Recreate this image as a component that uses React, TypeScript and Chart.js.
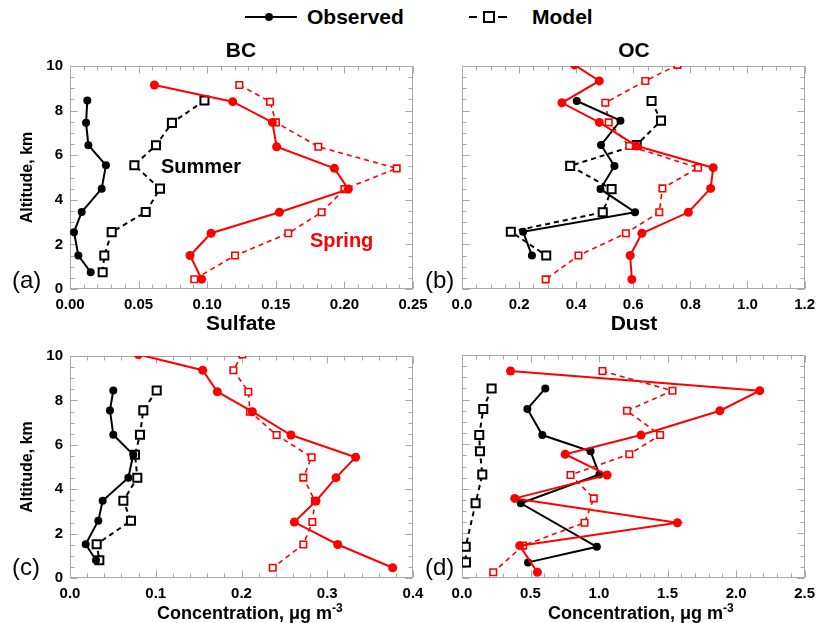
import React, { useEffect, useRef } from 'react';
import { Chart, registerables } from 'chart.js';
Chart.register(...registerables);

const FONT = '"Liberation Sans", Arial, Helvetica, sans-serif';
Chart.defaults.font.family = FONT;

// ---------- DATA (concentration, µg m-3 ; altitude, km) ----------
// BC
const bcSummerAlt = [8.45, 7.45, 6.45, 5.55, 4.5, 3.45, 2.55, 1.5, 0.75];
const bcSummerObs = [0.0126, 0.0117, 0.0134, 0.0262, 0.0231, 0.0085, 0.0029, 0.0061, 0.0151];
const bcSummerModel = [0.098, 0.0743, 0.0627, 0.0469, 0.0656, 0.0552, 0.0304, 0.025, 0.0238];
const bcSpringAlt = [9.15, 8.4, 7.47, 6.38, 5.41, 4.48, 3.44, 2.5, 1.5, 0.44];
const bcSpringObs = [0.0615, 0.1186, 0.1475, 0.1506, 0.1927, 0.2029, 0.1526, 0.1028, 0.0875, 0.096];
const bcSpringModel = [0.1234, 0.1458, 0.1501, 0.181, 0.2381, 0.2, 0.1834, 0.1591, 0.1203, 0.0906];
// OC
const ocSummerAlt = [8.43, 7.55, 6.46, 5.52, 4.48, 3.44, 2.57, 1.5];
const ocSummerObs = [0.402, 0.555, 0.487, 0.534, 0.485, 0.606, 0.214, 0.245];
const ocSummerModel = [0.664, 0.697, 0.612, 0.379, 0.524, 0.493, 0.171, 0.295];
const ocSpringAlt = [10.05, 9.33, 8.35, 7.47, 6.41, 5.44, 4.51, 3.44, 2.5, 1.5, 0.43];
const ocSpringObs = [0.394, 0.481, 0.35, 0.481, 0.612, 0.88, 0.871, 0.793, 0.63, 0.589, 0.595];
const ocSpringModel = [0.755, 0.642, 0.502, 0.514, 0.586, 0.827, 0.702, 0.691, 0.574, 0.408, 0.293];
// Sulfate
const so4SummerAlt = [8.45, 7.55, 6.45, 5.55, 4.52, 3.48, 2.58, 1.52, 0.8];
const so4SummerObs = [0.0505, 0.0466, 0.0505, 0.0738, 0.068, 0.0381, 0.033, 0.0183, 0.0303];
const so4SummerModel = [0.1011, 0.0855, 0.0816, 0.0758, 0.0785, 0.0622, 0.0711, 0.0311, 0.0342];
const so4SpringAlt = [10.07, 9.36, 8.39, 7.49, 6.44, 5.44, 4.52, 3.47, 2.52, 1.51, 0.46];
const so4SpringObs = [0.0797, 0.1547, 0.1718, 0.2126, 0.2577, 0.3331, 0.3102, 0.2869, 0.2616, 0.3122, 0.3763];
const so4SpringModel = [0.201, 0.1905, 0.208, 0.2099, 0.241, 0.2818, 0.2721, 0.2857, 0.2826, 0.2721, 0.2364];
// Dust
const dustSummerAlt = [8.5, 7.58, 6.41, 5.68, 4.64, 3.35, 1.4, 0.7];
const dustSummerObs = [0.608, 0.477, 0.586, 0.938, 1.003, 0.429, 0.984, 0.482];
const dustSummerModel = [0.216, 0.155, 0.126, 0.131, 0.148, 0.099, 0.027, 0.029];
const dustSpringAlt = [9.28, 8.4, 7.5, 6.41, 5.55, 4.62, 3.57, 2.48, 1.45, 0.26];
const dustSpringObs = [0.354, 2.173, 1.882, 1.306, 0.753, 1.059, 0.385, 1.572, 0.421, 0.55];
const dustSpringModel = [1.025, 1.536, 1.204, 1.446, 1.221, 0.792, 0.962, 0.894, 0.446, 0.228];

const altTicks = [0, 2, 4, 6, 8, 10];

const RED = '#ff0000';
const BLACK = '#000000';
const FRAME = '#a8a8a8';

type PanelCfg = {
  cl: number; ct: number; cw: number; ch: number;
  L: number; R: number; T: number; B: number;
  xmax: number; step: number; minor: number; dec: number; yLabels: boolean;
  summerAlt: number[]; summerObs: number[]; summerModel: number[];
  springAlt: number[]; springObs: number[]; springModel: number[];
};

const pts = (alt: number[], v: number[]) => alt.map((a, i) => ({ x: v[i], y: a }));

const frameTicks = {
  id: 'frameTicks',
  beforeDatasetsDraw(chart: any, _a: any, opts: any) {
    const { ctx, chartArea: ca, scales } = chart;
    const xs = scales.x, ys = scales.y;
    ctx.save();
    ctx.strokeStyle = FRAME;
    ctx.lineWidth = 1;
    const l = Math.round(ca.left) + 0.5, r = Math.round(ca.right) - 0.5;
    const t = Math.round(ca.top) + 0.5, b = Math.round(ca.bottom) - 0.5;
    ctx.strokeRect(l, t, r - l, b - t);
    ctx.beginPath();
    const n = Math.round(opts.xmax / opts.minor);
    const per = Math.round(opts.step / opts.minor);
    for (let i = 0; i <= n; i++) {
      const x = Math.round(xs.getPixelForValue(i * opts.minor)) + 0.5;
      const len = i % per === 0 ? 7 : 4;
      ctx.moveTo(x, b); ctx.lineTo(x, b - len);
      ctx.moveTo(x, t); ctx.lineTo(x, t + len);
    }
    for (let i = 0; i <= 20; i++) {
      const y = Math.round(ys.getPixelForValue(i * 0.5)) + 0.5;
      const len = i % 4 === 0 ? 7 : 4;
      ctx.moveTo(l, y); ctx.lineTo(l + len, y);
      ctx.moveTo(r, y); ctx.lineTo(r - len, y);
    }
    ctx.stroke();
    ctx.restore();
  },
};

function Panel({ cfg }: { cfg: PanelCfg }) {
  const ref = useRef<HTMLCanvasElement | null>(null);
  useEffect(() => {
    const c = cfg;
    const obs = (data: any, color: string, r: number) => ({
      data, borderColor: color, backgroundColor: color, borderWidth: 2,
      pointRadius: r, pointStyle: 'circle', pointBackgroundColor: color,
      pointBorderColor: color, pointBorderWidth: 0, clip: 0, tension: 0,
    });
    const mod = (data: any, color: string, r: number, w: number) => ({
      data, borderColor: color, backgroundColor: '#ffffff', borderWidth: w,
      borderDash: [5, 4], pointRadius: r, pointStyle: 'rect',
      pointBackgroundColor: '#ffffff', pointBorderColor: color, pointBorderWidth: w,
      clip: 0, tension: 0,
    });
    const chart = new Chart(ref.current as HTMLCanvasElement, {
      type: 'line',
      data: {
        datasets: [
          obs(pts(c.springAlt, c.springObs), RED, 4.5),
          obs(pts(c.summerAlt, c.summerObs), BLACK, 4),
          mod(pts(c.springAlt, c.springModel), RED, 4.6, 1.6),
          mod(pts(c.summerAlt, c.summerModel), BLACK, 5.7, 2),
        ] as any,
      },
      plugins: [frameTicks as any],
      options: {
        animation: false,
        responsive: false,
        events: [],
        layout: { padding: { left: 0, top: c.T - c.ct, right: c.cl + c.cw - c.R, bottom: 0 } },
        plugins: {
          legend: { display: false },
          tooltip: { enabled: false },
          frameTicks: { xmax: c.xmax, step: c.step, minor: c.minor },
        } as any,
        scales: {
          x: {
            type: 'linear', min: 0, max: c.xmax,
            afterFit: (s: any) => { s.height = 30; },
            afterBuildTicks: (s: any) => {
              const n = Math.round(c.xmax / c.step);
              const arr = [];
              for (let i = 0; i <= n; i++) arr.push({ value: +(i * c.step).toFixed(4) });
              s.ticks = arr;
            },
            ticks: {
              padding: 7, color: '#000', maxRotation: 0, autoSkip: false,
              font: { size: 15, weight: 'bold' },
              callback: (v: any) => Number(v).toFixed(c.dec),
            },
            grid: { display: false, drawTicks: false },
            border: { display: false },
          },
          y: {
            type: 'linear', min: 0, max: 10,
            afterFit: (s: any) => { s.width = c.L - c.cl; },
            afterBuildTicks: (s: any) => { s.ticks = altTicks.map((v) => ({ value: v })); },
            ticks: {
              display: c.yLabels, padding: 7, color: '#000', autoSkip: false,
              font: { size: 15, weight: 'bold' },
              callback: (v: any) => String(v),
            },
            title: {
              display: c.yLabels, text: 'Altitude, km', color: '#000',
              font: { size: 16, weight: 'bold' }, padding: { top: 18, bottom: 0 },
            },
            grid: { display: false, drawTicks: false },
            border: { display: false },
          },
        },
      } as any,
    });
    return () => chart.destroy();
  }, []);
  return (
    <canvas
      ref={ref}
      width={cfg.cw}
      height={cfg.ch}
      style={{ position: 'absolute', left: cfg.cl, top: cfg.ct, width: cfg.cw, height: cfg.ch }}
    />
  );
}

const panels: PanelCfg[] = [
  { cl: 0, ct: 50, cw: 436, ch: 269, L: 70, R: 413, T: 66, B: 289, xmax: 0.25, step: 0.05, minor: 0.01, dec: 2, yLabels: true,
    summerAlt: bcSummerAlt, summerObs: bcSummerObs, summerModel: bcSummerModel,
    springAlt: bcSpringAlt, springObs: bcSpringObs, springModel: bcSpringModel },
  { cl: 436, ct: 50, cw: 386, ch: 269, L: 462, R: 806, T: 66, B: 289, xmax: 1.2, step: 0.2, minor: 0.05, dec: 1, yLabels: false,
    summerAlt: ocSummerAlt, summerObs: ocSummerObs, summerModel: ocSummerModel,
    springAlt: ocSpringAlt, springObs: ocSpringObs, springModel: ocSpringModel },
  { cl: 0, ct: 340, cw: 436, ch: 268, L: 70, R: 413, T: 355, B: 578, xmax: 0.4, step: 0.1, minor: 0.02, dec: 1, yLabels: true,
    summerAlt: so4SummerAlt, summerObs: so4SummerObs, summerModel: so4SummerModel,
    springAlt: so4SpringAlt, springObs: so4SpringObs, springModel: so4SpringModel },
  { cl: 436, ct: 340, cw: 386, ch: 268, L: 462, R: 806, T: 355, B: 578, xmax: 2.5, step: 0.5, minor: 0.1, dec: 1, yLabels: false,
    summerAlt: dustSummerAlt, summerObs: dustSummerObs, summerModel: dustSummerModel,
    springAlt: dustSpringAlt, springObs: dustSpringObs, springModel: dustSpringModel },
];

const txt = (left: number, top: number, size: number, bold: boolean, color: string, center = false): React.CSSProperties => ({
  position: 'absolute', left, top, fontSize: size, fontWeight: bold ? 'bold' : 'normal', color,
  fontFamily: FONT, lineHeight: 1, whiteSpace: 'nowrap',
  transform: center ? 'translateX(-50%)' : undefined,
});

export default function App() {
  return (
    <div style={{ position: 'absolute', left: 0, top: 0, width: 822, height: 623, background: '#fff', overflow: 'hidden' }}>
      {panels.map((p, i) => <Panel key={i} cfg={p} />)}

      {/* legend */}
      <div style={{ position: 'absolute', left: 245, top: 16, width: 52, height: 2, background: BLACK }} />
      <div style={{ position: 'absolute', left: 265, top: 13, width: 8, height: 8, borderRadius: '50%', background: BLACK }} />
      <div style={txt(307, 6, 21, true, BLACK)}>Observed</div>
      <div style={{ position: 'absolute', left: 469, top: 16, width: 8, height: 2, background: BLACK }} />
      <div style={{ position: 'absolute', left: 483, top: 11, width: 12, height: 12, border: '2px solid #000', boxSizing: 'border-box' }} />
      <div style={{ position: 'absolute', left: 498, top: 16, width: 9, height: 2, background: BLACK }} />
      <div style={txt(532, 6, 21, true, BLACK)}>Model</div>

      {/* panel titles */}
      <div style={txt(241, 39, 21, true, BLACK, true)}>BC</div>
      <div style={txt(634, 39, 21, true, BLACK, true)}>OC</div>
      <div style={txt(241, 312, 21, true, BLACK, true)}>Sulfate</div>
      <div style={txt(634, 312, 21, true, BLACK, true)}>Dust</div>

      {/* season labels */}
      <div style={txt(161, 156, 20, true, BLACK)}>Summer</div>
      <div style={txt(310, 230, 20, true, RED)}>Spring</div>

      {/* panel letters */}
      <div style={txt(12, 268, 24, false, BLACK)}>(a)</div>
      <div style={txt(425, 268, 24, false, BLACK)}>(b)</div>
      <div style={txt(12, 555, 24, false, BLACK)}>(c)</div>
      <div style={txt(425, 555, 24, false, BLACK)}>(d)</div>

      {/* x-axis titles */}
      {[157, 548].map((l) => (
        <div key={l} style={txt(l, 604, 18, true, BLACK)}>
          Concentration, μg m<span style={{ fontSize: 12, position: 'relative', top: -7 }}>-3</span>
        </div>
      ))}
    </div>
  );
}
